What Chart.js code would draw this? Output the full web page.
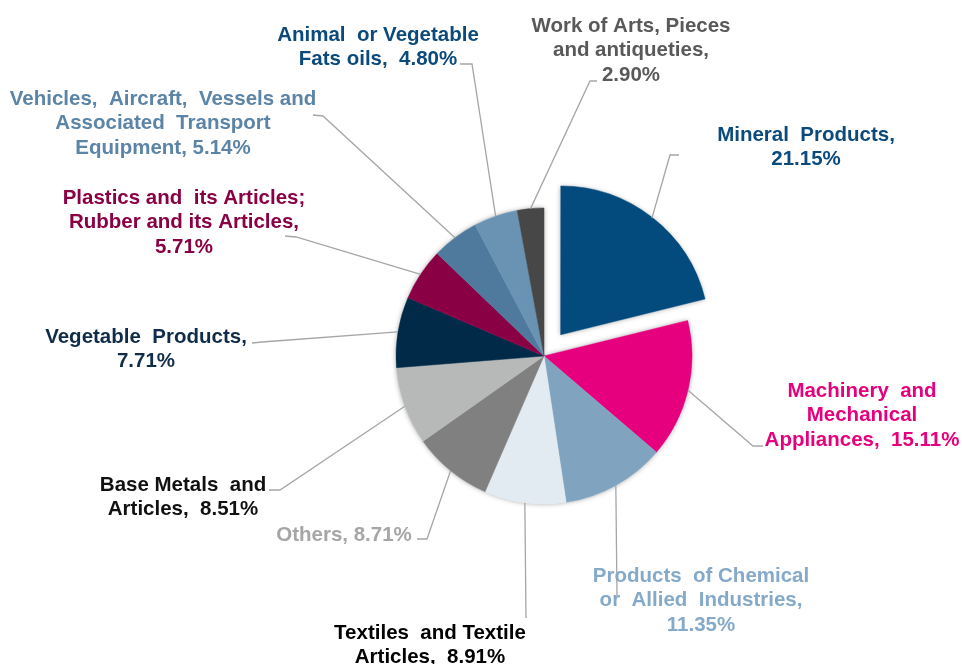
<!DOCTYPE html>
<html>
<head>
<meta charset="utf-8">
<script src="https://cdn.jsdelivr.net/npm/chart.js@4.4.1/dist/chart.umd.min.js"></script>
<style>
  html, body { margin: 0; padding: 0; background: #fff; }
  #wrap { width: 962px; height: 664px; }
</style>
</head>
<body>
<div id="wrap"><canvas id="myChart" width="962" height="664"></canvas></div>
<script>
// data
const categories = [
  'Mineral Products',
  'Machinery and Mechanical Appliances',
  'Products of Chemical or Allied Industries',
  'Textiles and Textile Articles',
  'Others',
  'Base Metals and Articles',
  'Vegetable Products',
  'Plastics and its Articles; Rubber and its Articles',
  'Vehicles, Aircraft, Vessels and Associated Transport Equipment',
  'Animal or Vegetable Fats oils',
  'Work of Arts, Pieces and antiqueties'
];
const shares = [21.15, 15.11, 11.35, 8.91, 8.71, 8.51, 7.71, 5.71, 5.14, 4.80, 2.90];

const sliceColors = ['#034a7d', '#e6007e', '#80a4c0', '#e3ebf2', '#808080', '#b7b8b8',
  '#002a48', '#8a0045', '#4f7a9d', '#6a93b3', '#474747'];
const labelColors = ['#0b4a7c', '#e6007e', '#85a9c9', '#000000', '#a6a6a6', '#111111',
  '#0f2d4a', '#8a0045', '#5b84a6', '#0b4a7c', '#595959'];

// how each label wraps; the share gets appended to the last line
const labelLines = [
  ['Mineral  Products,', ''],
  ['Machinery  and', 'Mechanical', 'Appliances,  '],
  ['Products  of Chemical', 'or  Allied  Industries,', ''],
  ['Textiles  and Textile', 'Articles,  '],
  ['Others, '],
  ['Base Metals  and', 'Articles,  '],
  ['Vegetable  Products,', ''],
  ['Plastics and  its Articles;', 'Rubber and its Articles,', ''],
  ['Vehicles,  Aircraft,  Vessels and', 'Associated  Transport', 'Equipment, '],
  ['Animal  or Vegetable', 'Fats oils,  '],
  ['Work of Arts, Pieces', 'and antiqueties,', '']
];

// label placement (centre x, first line y) and leader line bends
const labelPos = [
  [806, 135], [862, 391], [701, 576], [430, 633], [344, 535], [183, 485],
  [146, 337], [184, 198], [163, 99], [378, 35], [631, 26]
];
const leaderBends = [
  [[670, 155], [679, 155]],
  [[753, 446], [763, 446]],
  [[617, 596]],
  [[526, 618]],
  [[427, 539], [417, 539]],
  [[280, 490], [269, 490]],
  [[262, 342], [252, 343]],
  [[296, 237], [285, 236]],
  [[323, 116], [313, 115]],
  [[472, 64], [460, 64]],
  [[590, 81], [597, 81]]
];

const fontSize = 20.5;
const lineGap = 24.5;

function arcShift(arc) {
  const mid = (arc.startAngle + arc.endAngle) / 2;
  const off = (arc.options.offset || 0) / 4;
  return { mid: mid, dx: Math.cos(mid) * off, dy: Math.sin(mid) * off };
}

const pieLabels = {
  id: 'pieLabels',
  beforeDatasetsDraw(chart) {
    // soft shadow under the pie
    const ctx = chart.ctx;
    const arcs = chart.getDatasetMeta(0).data;
    ctx.save();
    ctx.shadowColor = 'rgba(0,0,0,0.35)';
    ctx.shadowBlur = 5;
    ctx.fillStyle = '#fff';
    arcs.forEach(arc => {
      const s = arcShift(arc);
      const cx = arc.x + s.dx, cy = arc.y + s.dy;
      ctx.beginPath();
      ctx.moveTo(cx, cy);
      ctx.arc(cx, cy, arc.outerRadius, arc.startAngle, arc.endAngle);
      ctx.closePath();
      ctx.fill();
    });
    ctx.restore();
  },
  afterDatasetsDraw(chart) {
    const ctx = chart.ctx;
    const arcs = chart.getDatasetMeta(0).data;
    ctx.save();
    ctx.strokeStyle = '#a6a6a6';
    ctx.lineWidth = 1.3;
    arcs.forEach((arc, i) => {
      const s = arcShift(arc);
      const r = arc.outerRadius;
      ctx.beginPath();
      ctx.moveTo(arc.x + s.dx + Math.cos(s.mid) * r, arc.y + s.dy + Math.sin(s.mid) * r);
      leaderBends[i].forEach(p => ctx.lineTo(p[0], p[1]));
      ctx.stroke();
    });

    ctx.font = 'bold ' + fontSize + 'px "Liberation Sans", Arial, sans-serif';
    ctx.textBaseline = 'middle';
    ctx.textAlign = 'center';
    labelLines.forEach((lines, i) => {
      ctx.fillStyle = labelColors[i];
      lines.forEach((ln, j) => {
        let txt = ln;
        if (j === lines.length - 1) txt += shares[i].toFixed(2) + '%';
        ctx.fillText(txt, labelPos[i][0], labelPos[i][1] + j * lineGap);
      });
    });
    ctx.restore();
  }
};

let ctx = document.getElementById('myChart').getContext('2d');
const myChart = new Chart(ctx, {
  type: 'pie',
  data: {
    labels: categories,
    datasets: [
      {
        data: shares,
        backgroundColor: sliceColors,
        borderColor: sliceColors,
        borderWidth: 0.5,
        offset: [108, 0, 0, 0, 0, 0, 0, 0, 0, 0, 0]
      }
    ]
  },
  options: {
    responsive: false,
    animation: false,
    radius: 148,
    layout: {
      padding: { left: 370, right: 244, top: 182, bottom: 134 }
    },
    plugins: {
      legend: { display: false },
      tooltip: { enabled: false }
    }
  },
  plugins: [pieLabels]
});
</script>
</body>
</html>
